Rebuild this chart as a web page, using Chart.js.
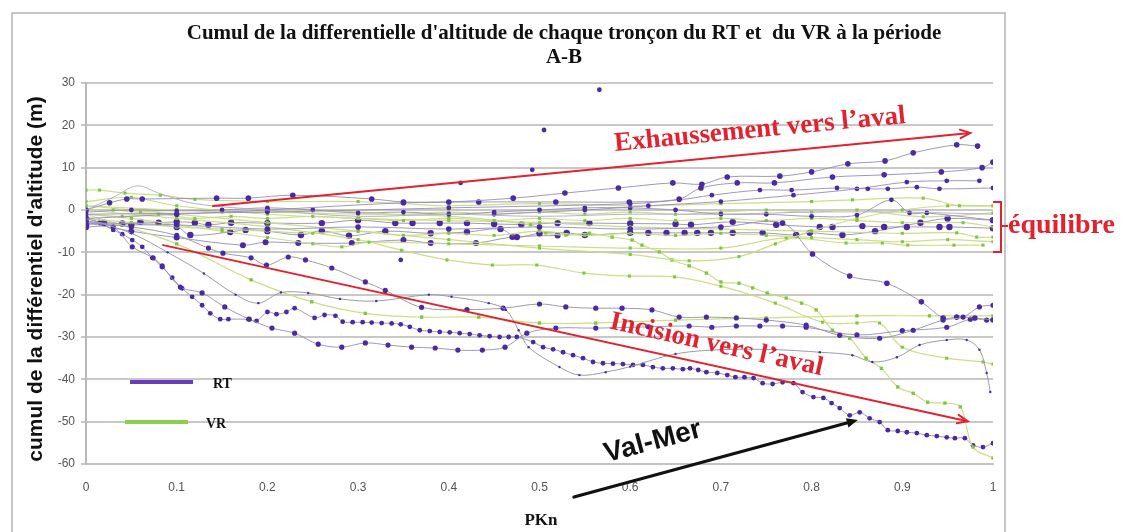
<!DOCTYPE html>
<html><head><meta charset="utf-8">
<script src="https://cdn.jsdelivr.net/npm/chart.js@4/dist/chart.umd.min.js"></script>
<style>html,body{margin:0;padding:0;background:#fff;overflow:hidden}#wrap{width:1126px;height:532px;position:relative}</style>
</head><body><div id="wrap"><canvas id="c" style="width:1126px;height:532px"></canvas></div>
<script>
// ---------- DATA (PKn, cumulative altitude differential in m) ----------
const X_TICKS = [0,0.1,0.2,0.3,0.4,0.5,0.6,0.7,0.8,0.9,1];
const Y_TICKS = [-60,-50,-40,-30,-20,-10,0,10,20,30];

// RT reaches
const RT_VALMER = [[0,-1.5],[0.015,-3],[0.03,-4.7],[0.04,-5.7],[0.051,-7.1],[0.062,-8.7],[0.073,-11.3],[0.084,-13.5],[0.095,-16],[0.106,-18.5],[0.117,-20.5],[0.128,-22.5],[0.137,-24.4],[0.148,-25.8],[0.157,-25.8],[0.179,-25.8],[0.188,-26.2],[0.2,-24.1],[0.21,-24.6],[0.221,-24.1],[0.23,-23.2],[0.252,-25.5],[0.263,-24.8],[0.275,-25],[0.283,-26.4],[0.294,-26.5],[0.305,-26.5],[0.315,-26.6],[0.326,-26.7],[0.337,-26.8],[0.347,-27],[0.357,-27.6],[0.368,-28.4],[0.379,-28.6],[0.39,-28.8],[0.401,-28.9],[0.412,-29.1],[0.423,-29.3],[0.434,-29.6],[0.445,-29.8],[0.456,-30],[0.466,-30],[0.475,-30],[0.493,-31.2],[0.504,-32.4],[0.515,-32.9],[0.526,-33.6],[0.537,-34.3],[0.548,-35],[0.559,-35.9],[0.57,-36.2],[0.581,-36.3],[0.592,-36.4],[0.603,-36.6],[0.614,-36.6],[0.625,-37.1],[0.636,-37.4],[0.647,-37.4],[0.658,-37.6],[0.666,-37.4],[0.675,-37.8],[0.684,-38.3],[0.696,-38.5],[0.707,-39],[0.716,-39.5],[0.726,-39.5],[0.736,-39.7],[0.746,-40.9],[0.757,-41.1],[0.768,-40.7],[0.78,-40.9],[0.79,-43],[0.802,-44.2],[0.813,-44.4],[0.822,-45.6],[0.831,-46.8],[0.842,-48.5],[0.853,-47.8],[0.864,-49.2],[0.875,-50.1],[0.884,-52],[0.895,-52.2],[0.905,-52.5],[0.916,-52.7],[0.927,-53.2],[0.938,-53.4],[0.949,-53.7],[0.958,-53.9],[0.969,-53.9],[0.978,-55.6],[0.989,-56],[1,-55.1]];
const RT_LOW = [[0,-2.5],[0.03,-4],[0.051,-8.7],[0.074,-11.3],[0.084,-13.2],[0.104,-18.2],[0.128,-19.6],[0.153,-22.9],[0.18,-25.8],[0.205,-27.9],[0.23,-29.1],[0.256,-31.7],[0.282,-32.4],[0.308,-31.4],[0.333,-31.9],[0.359,-32.4],[0.385,-32.6],[0.41,-33.1],[0.437,-33.1],[0.462,-32.4],[0.486,-29.1],[0.518,-27.9],[0.562,-27.9],[0.62,-27.6],[0.665,-27.4],[0.69,-27.7],[0.717,-27.4],[0.743,-27.4],[0.768,-27.4],[0.794,-27.7],[0.85,-29.5],[0.9,-28.5],[0.949,-27.7],[0.975,-25.8],[0.993,-26]];
const RT_TOP = [[0,0],[0.026,1.7],[0.045,2.6],[0.062,2.6],[0.144,2.8],[0.179,2.8],[0.228,3.5],[0.315,2.6],[0.35,1.9],[0.4,1.9],[0.471,2.8],[0.528,4],[0.587,5.2],[0.647,6.4],[0.679,6.1],[0.707,7.8],[0.765,8],[0.8,9],[0.84,10.9],[0.881,11.6],[0.912,13.5],[0.96,15.4],[0.983,15.1]];
const RT_RISE = [[0,-2],[0.1,-1],[0.2,0],[0.35,1.7],[0.433,1.9],[0.518,1.9],[0.599,1.9],[0.654,2.6],[0.678,5.2],[0.718,6.4],[0.759,6.4],[0.823,7.8],[0.88,8.3],[0.943,9],[0.988,10],[1,11.3]];
const RT_FLAT5 = [[0,-1],[0.2,-0.5],[0.4,0.5],[0.6,1.5],[0.654,2.4],[0.69,3.5],[0.743,4.7],[0.778,4.7],[0.828,5.2],[0.862,5],[0.884,5],[0.916,5.4],[0.941,5],[1,5.2]];
const RT_PLUS7 = [[0.45,-1],[0.55,0],[0.62,1],[0.7,2],[0.78,3.5],[0.85,5],[0.905,6.6],[0.949,6.9],[0.985,6.9]];
const RT_BLIP = [[0,-3],[0.05,-4],[0.1,-6],[0.135,-9],[0.151,-10.2],[0.182,-11.3],[0.199,-13],[0.223,-11.1],[0.242,-11.8],[0.271,-13.7],[0.308,-17],[0.33,-19],[0.37,-23],[0.42,-23.5],[0.46,-23.2],[0.5,-22.2],[0.529,-22.9],[0.562,-23.2],[0.591,-23.2],[0.624,-23.6],[0.654,-25.3],[0.684,-25.3],[0.717,-25.5],[0.75,-26],[0.794,-27.2],[0.831,-29.6],[0.875,-30.3],[0.912,-28.4],[0.945,-26],[0.967,-25.3],[0.985,-22.9],[1,-22.5]];
const RT_DIP = [[0,-2],[0.05,-5.5],[0.09,-10],[0.13,-15],[0.165,-20],[0.19,-22],[0.215,-19.5],[0.245,-19.6],[0.28,-21],[0.32,-21.5],[0.378,-20],[0.403,-20.5],[0.444,-22],[0.463,-23.6],[0.477,-28.4],[0.488,-32.4],[0.522,-37.1],[0.544,-39],[0.573,-38.3],[0.6,-37],[0.65,-34],[0.7,-33],[0.76,-33],[0.809,-33.6],[0.845,-34.3],[0.867,-35.9],[0.894,-34.8],[0.919,-31.9],[0.949,-30.7],[0.971,-30.7],[0.985,-33],[0.993,-38.5],[0.997,-43]];
const RT_DROP = [[0,-3],[0.1,-3.5],[0.2,-4.5],[0.3,-4],[0.4,-4.5],[0.5,-4],[0.6,-4.5],[0.7,-4],[0.768,-3.1],[0.801,-10.4],[0.842,-15.6],[0.883,-17.3],[0.921,-21.7],[0.945,-25.5],[0.96,-25.3],[0.98,-25.5],[1,-26]];
const RT_ROW3 = [[0,-3.5],[0.02,-3],[0.04,-3.2],[0.06,-2.8],[0.08,-3],[0.1,-2.8],[0.12,-3],[0.135,-3.5],[0.16,-3],[0.2,-3.1],[0.26,-3.1],[0.3,-2.4],[0.341,-3.1],[0.36,-3.1],[0.39,-3.1],[0.42,-3.1],[0.45,-3.3],[0.48,-3.4],[0.52,-3.1],[0.555,-3.1],[0.6,-3.2],[0.65,-3.3],[0.667,-3.5],[0.713,-2.8],[0.761,-3.5],[0.809,-4],[0.823,-4],[0.856,-3.8],[0.88,-4],[0.905,-4],[0.941,-4],[0.952,-4],[1,-4.3]];
const RT_ROW5 = [[0,-4],[0.05,-3.5],[0.1,-4],[0.115,-5.9],[0.159,-5.2],[0.176,-4.7],[0.2,-5],[0.237,-5.9],[0.26,-4.9],[0.29,-6.1],[0.33,-5],[0.38,-5.5],[0.42,-5.2],[0.457,-4.5],[0.475,-6.4],[0.5,-5.5],[0.53,-5.4],[0.55,-5.9],[0.6,-5.4],[0.62,-5.4],[0.64,-5.4],[0.66,-5.4],[0.674,-5.4],[0.689,-5.4],[0.713,-5.4],[0.746,-5.4],[0.783,-5.9],[0.798,-5.4],[0.834,-5.9],[0.87,-5],[0.92,-3],[0.95,-2],[1,-2.4]];
const RT_ROW8 = [[0,-3],[0.05,-5],[0.1,-6.5],[0.173,-8.3],[0.198,-7.6],[0.234,-7.8],[0.293,-7.8],[0.35,-7.1],[0.38,-7.8],[0.43,-7.8],[0.47,-6.4],[0.52,-6]];
const RT_ROW0 = [[0,-0.5],[0.05,0],[0.1,-0.2],[0.15,0],[0.2,0.5],[0.25,0],[0.3,-0.7],[0.35,-0.5],[0.4,-1],[0.45,-0.5],[0.5,0],[0.55,0.5],[0.6,0.5],[0.65,0],[0.7,-1],[0.75,-1],[0.8,-1.5],[0.85,-1.2],[0.888,2.4],[0.908,-0.7],[0.927,-0.7],[1,-2.4]];
const RT_PEAK = [[0,0],[0.03,3],[0.056,5.7],[0.08,4],[0.12,1.5],[0.2,0],[0.3,-1.5],[0.4,-1],[0.5,-1.5],[0.6,-1],[0.7,-1],[0.8,-0.5],[0.9,-0.5],[1,-1]];
const RT_ISOLATED = [[0.347,-11.8],[0.413,6.4],[0.492,9.5],[0.505,18.9],[0.566,28.4]];

// VR reaches
const VR_STEEP = [[0,1],[0.1,0],[0.2,-0.5],[0.3,-1],[0.4,-1.5],[0.49,-3.5],[0.507,-5.4],[0.529,-5.9],[0.555,-5.5],[0.58,-6.4],[0.602,-7.1],[0.613,-8.3],[0.632,-9.9],[0.646,-11.8],[0.665,-13.2],[0.684,-14.9],[0.7,-17],[0.72,-17.3],[0.735,-18.4],[0.751,-19.6],[0.772,-20.8],[0.789,-22],[0.805,-23.6],[0.823,-28.4],[0.842,-30.3],[0.86,-35],[0.877,-37.4],[0.895,-41.8],[0.912,-43.3],[0.928,-45.4],[0.947,-45.6],[0.964,-46.5],[0.978,-56],[1,-58.6]];
const VR_MID = [[0,0],[0.1,-2],[0.2,-4],[0.3,-7],[0.348,-9.5],[0.398,-11.8],[0.448,-13],[0.497,-13],[0.549,-14.9],[0.599,-15.6],[0.649,-15.8],[0.7,-18],[0.76,-22],[0.812,-26.5],[0.85,-26.7],[0.875,-26.7],[0.9,-32.4],[0.949,-35],[0.989,-35.9],[1,-36.4]];
const VR_DASH = [[0,-1],[0.1,-8],[0.182,-16.5],[0.249,-21.7],[0.308,-24.4],[0.37,-25.3],[0.433,-25.3],[0.5,-26.7],[0.562,-26.7],[0.65,-26],[0.75,-25.5],[0.85,-25],[0.93,-25],[1,-25]];
const VR_BACK = [[0,1],[0.1,-1],[0.2,-3],[0.3,-5],[0.4,-7],[0.5,-9],[0.6,-10.5],[0.665,-12],[0.72,-11],[0.76,-8],[0.8,-5],[0.85,-2],[0.9,0],[0.95,1],[1,1]];
const VR_TOP = [[0,4.7],[0.015,4.7],[0.043,4],[0.082,3.5],[0.12,2.5],[0.2,2],[0.3,2],[0.35,1.5],[0.4,1],[0.5,1.5],[0.6,1],[0.7,1.5],[0.8,2],[0.845,2.4],[0.923,2.8],[0.963,1],[1,1]];
const VR_ZERO = [[0,0],[0.03,0],[0.06,-0.5],[0.1,0],[0.15,-0.5],[0.2,-0.5],[0.25,0],[0.3,-0.5],[0.35,-1],[0.4,-0.5],[0.45,-1],[0.5,-0.5],[0.55,-1],[0.6,-0.5],[0.65,-1],[0.7,-0.5],[0.75,0],[0.8,-0.5],[0.85,0],[0.923,-1.6],[1,-0.7]];
const VR_M2 = [[0,-1],[0.04,-1.5],[0.08,-1],[0.12,-2],[0.16,-1.5],[0.2,-2],[0.25,-1.5],[0.3,-2],[0.35,-2.5],[0.4,-2],[0.45,-2.5],[0.5,-2],[0.55,-2.5],[0.6,-2],[0.65,-2.5],[0.7,-2],[0.75,-2.5],[0.8,-2],[0.85,-2.5],[0.9,-3],[0.967,-3],[1,-4]];
const VR_M4 = [[0,2],[0.05,3],[0.1,1],[0.2,-1],[0.3,-2],[0.4,-2.5],[0.5,-3],[0.6,-4],[0.7,-4.5],[0.8,-5],[0.9,-5.5],[0.96,-5.4],[0.982,-6.4],[1,-6.4]];
const VR_M8 = [[0,-1],[0.05,-2],[0.1,-3.5],[0.15,-5],[0.2,-6.5],[0.25,-8],[0.282,-8.7],[0.312,-7.6],[0.4,-8],[0.5,-8.5],[0.6,-9],[0.7,-9],[0.772,-6.6],[0.838,-7.8],[0.878,-7.8],[0.906,-8.3],[0.957,-8.3],[0.989,-8.3]];
const VR_M6 = [[0,-2],[0.05,-3],[0.1,-4],[0.15,-4.5],[0.2,-5],[0.25,-5.5],[0.3,-5],[0.35,-6],[0.4,-5.5],[0.45,-6],[0.5,-5],[0.55,-6],[0.6,-5.5],[0.65,-6],[0.7,-5.5],[0.75,-6],[0.8,-6.5],[0.85,-7],[0.9,-7.5],[0.95,-7],[1,-7.5]];

// ---------- styling ----------
const RT_LINE = 'rgba(150,140,185,0.9)', RT_MARK = '#4a2aa0';
const VR_LINE = 'rgba(200,220,130,0.95)', VR_MARK = '#86c43f';
const GREY = '#9c9aa8';
const toPts = a => a.map(p => ({x:p[0], y:p[1]}));
function rt(d, r, line){ return {data:toPts(d), showLine:true, borderColor: line||RT_LINE, borderWidth:1, tension:0.35,
  pointRadius:r, pointBackgroundColor:RT_MARK, pointBorderWidth:0, pointStyle:'circle'}; }
function vr(d, r){ return {data:toPts(d), showLine:true, borderColor:VR_LINE, borderWidth:1.2, tension:0.35,
  pointRadius:r, pointBackgroundColor:VR_MARK, pointBorderWidth:0, pointStyle:'rect'}; }

const datasets = [
  rt(RT_PEAK, 0, 'rgba(175,170,200,0.9)'),
  rt(RT_DIP, 1.2, GREY),
  rt(RT_BLIP, 2.6, GREY),
  rt(RT_DROP, 2.8),
  rt(RT_LOW, 2.6),
  rt(RT_TOP, 2.8),
  rt(RT_RISE, 2.8),
  rt(RT_FLAT5, 2.4),
  rt(RT_PLUS7, 2.4),
  rt(RT_ROW0, 2.4),
  vr(VR_TOP, 2.2), vr(VR_ZERO, 2.2), vr(VR_M2, 2.2), vr(VR_M4, 2.2), vr(VR_M6, 2.2), vr(VR_M8, 2.2),
  vr(VR_BACK, 2.2), vr(VR_MID, 2.2), vr(VR_DASH, 2.4), vr(VR_STEEP, 2.4),
  rt(RT_ROW3, 3.2),
  rt(RT_ROW5, 3.2),
  rt(RT_ROW8, 3),
  rt(RT_VALMER, 2.4),
  {data:toPts(RT_ISOLATED), showLine:false, pointRadius:2.4, pointBackgroundColor:RT_MARK, pointBorderWidth:0}
];

// annotation anchors in data coordinates
const ARROW_UP = [[0.14,0.95],[0.975,18.2]];
const ARROW_DOWN = [[0.085,-8.3],[0.972,-49.9]];
const ARROW_VALMER = [[0.538,-67.8],[0.851,-49.6]];
const TXT_UP = {t:"Exhaussement vers l\u2019aval", at:[0.743,18.9], rot:-5.5};
const TXT_DOWN = {t:"Incision vers l\u2019aval", at:[0.695,-31.9], rot:12.5};
const TXT_VALMER = {t:"Val-Mer", at:[0.625,-54.8], rot:-15};

function arrow(ctx, x1,y1,x2,y2, color, w, head, filled){
  ctx.save(); ctx.strokeStyle=color; ctx.fillStyle=color; ctx.lineWidth=w; ctx.lineCap='round';
  const a=Math.atan2(y2-y1,x2-x1);
  ctx.beginPath(); ctx.moveTo(x1,y1); ctx.lineTo(filled? x2-head*0.8*Math.cos(a):x2, filled? y2-head*0.8*Math.sin(a):y2); ctx.stroke();
  ctx.beginPath();
  ctx.moveTo(x2-head*Math.cos(a-0.4), y2-head*Math.sin(a-0.4));
  ctx.lineTo(x2,y2);
  ctx.lineTo(x2-head*Math.cos(a+0.4), y2-head*Math.sin(a+0.4));
  if(filled){ctx.closePath(); ctx.fill();} else ctx.stroke();
  ctx.restore();
}
function rtext(ctx, s, x, y, rot, font, color){
  ctx.save(); ctx.translate(x,y); ctx.rotate(rot*Math.PI/180); ctx.font=font; ctx.fillStyle=color;
  ctx.textAlign='center'; ctx.textBaseline='middle'; ctx.fillText(s,0,0); ctx.restore();
}

const decor = {
  id:'decor',
  afterDatasetsDraw(chart){
    const ctx=chart.ctx, xs=chart.scales.x, ys=chart.scales.y;
    const P = p => [xs.getPixelForValue(p[0]), ys.getPixelForValue(p[1])];
    const red='#e2232f';
    let a=P(ARROW_UP[0]), b=P(ARROW_UP[1]); arrow(ctx,a[0],a[1],b[0],b[1],red,2,11,false);
    a=P(ARROW_DOWN[0]); b=P(ARROW_DOWN[1]); arrow(ctx,a[0],a[1],b[0],b[1],red,2,11,false);
    a=P(ARROW_VALMER[0]); b=P(ARROW_VALMER[1]); arrow(ctx,a[0],a[1],b[0],b[1],'#111',3.2,12,true);
    let t=P(TXT_UP.at); rtext(ctx,TXT_UP.t,t[0],t[1],TXT_UP.rot,'bold 27px "Liberation Serif"',red);
    t=P(TXT_DOWN.at); rtext(ctx,TXT_DOWN.t,t[0],t[1],TXT_DOWN.rot,'bold 27px "Liberation Serif"',red);
    t=P(TXT_VALMER.at); rtext(ctx,TXT_VALMER.t,t[0],t[1],TXT_VALMER.rot,'bold 28px "Liberation Sans"','#111');
  },
  afterDraw(chart){
    const ctx=chart.ctx;
    ctx.save();
    // frame
    ctx.strokeStyle='#b4b4b4'; ctx.lineWidth=1.5;
    ctx.beginPath(); ctx.moveTo(12,540); ctx.lineTo(12,13); ctx.lineTo(1005,13); ctx.lineTo(1005,540); ctx.stroke();
    // titles
    ctx.fillStyle='#111'; ctx.textAlign='center'; ctx.textBaseline='middle';
    ctx.font='bold 21px "Liberation Serif"';
    ctx.fillText("Cumul de la differentielle d'altitude de chaque tron\u00e7on du RT et  du VR \u00e0 la p\u00e9riode", 564, 34);
    ctx.fillText("A-B", 564, 58);
    ctx.font='bold 17px "Liberation Serif"'; ctx.fillText("PKn", 541, 521);
    ctx.save(); ctx.translate(36, 279); ctx.rotate(-Math.PI/2);
    ctx.font='bold 21px "Liberation Sans"'; ctx.fillText("cumul de la diff\u00e9rentiel d'altitude (m)",0,0); ctx.restore();
    // legend
    ctx.lineWidth=4; ctx.strokeStyle='#6a3cb8'; ctx.beginPath(); ctx.moveTo(130,382); ctx.lineTo(193,382); ctx.stroke();
    ctx.strokeStyle='#8ccf4c'; ctx.beginPath(); ctx.moveTo(125,422); ctx.lineTo(188,422); ctx.stroke();
    ctx.font='bold 14px "Liberation Serif"'; ctx.textAlign='left';
    ctx.fillText("RT", 213, 384); ctx.fillText("VR", 206, 424);
    // équilibre bracket
    const red='#e2232f';
    ctx.strokeStyle=red; ctx.lineWidth=2;
    ctx.beginPath(); ctx.moveTo(993,202); ctx.lineTo(1001,202); ctx.lineTo(1001,252); ctx.lineTo(993,252);
    ctx.moveTo(1001,226); ctx.lineTo(1008,226); ctx.stroke();
    ctx.fillStyle=red; ctx.font='bold 28px "Liberation Serif"'; ctx.textAlign='left';
    ctx.fillText("\u00e9quilibre", 1008, 226);
    ctx.restore();
  }
};

new Chart(document.getElementById('c'), {
  type:'scatter',
  data:{datasets},
  options:{
    responsive:false, animation:false, devicePixelRatio:1,
    layout:{padding:{left:40,right:133,top:83,bottom:0}},
    plugins:{legend:{display:false}, tooltip:{enabled:false}, title:{display:false}},
    scales:{
      x:{type:'linear', min:0, max:1,
        afterBuildTicks(s){ s.ticks = X_TICKS.map(v=>({value:v})); },
        afterFit(s){ s.height=68; },
        grid:{display:false, drawTicks:false},
        border:{display:true, color:'#c4c4c4', width:2},
        ticks:{padding:16, color:'#555', font:{family:'"Liberation Sans"', size:12}, callback:v=>String(v)}},
      y:{type:'linear', min:-60, max:30,
        afterBuildTicks(s){ s.ticks = Y_TICKS.map(v=>({value:v})); },
        afterFit(s){ s.width=46; },
        grid:{color:'#c8c8c8', lineWidth:2, tickLength:5},
        border:{display:true, color:'#b8b8b8', width:2},
        ticks:{padding:6, color:'#555', font:{family:'"Liberation Sans"', size:12}, callback:v=>String(v)}}
    }
  },
  plugins:[decor]
});
</script></body></html>
